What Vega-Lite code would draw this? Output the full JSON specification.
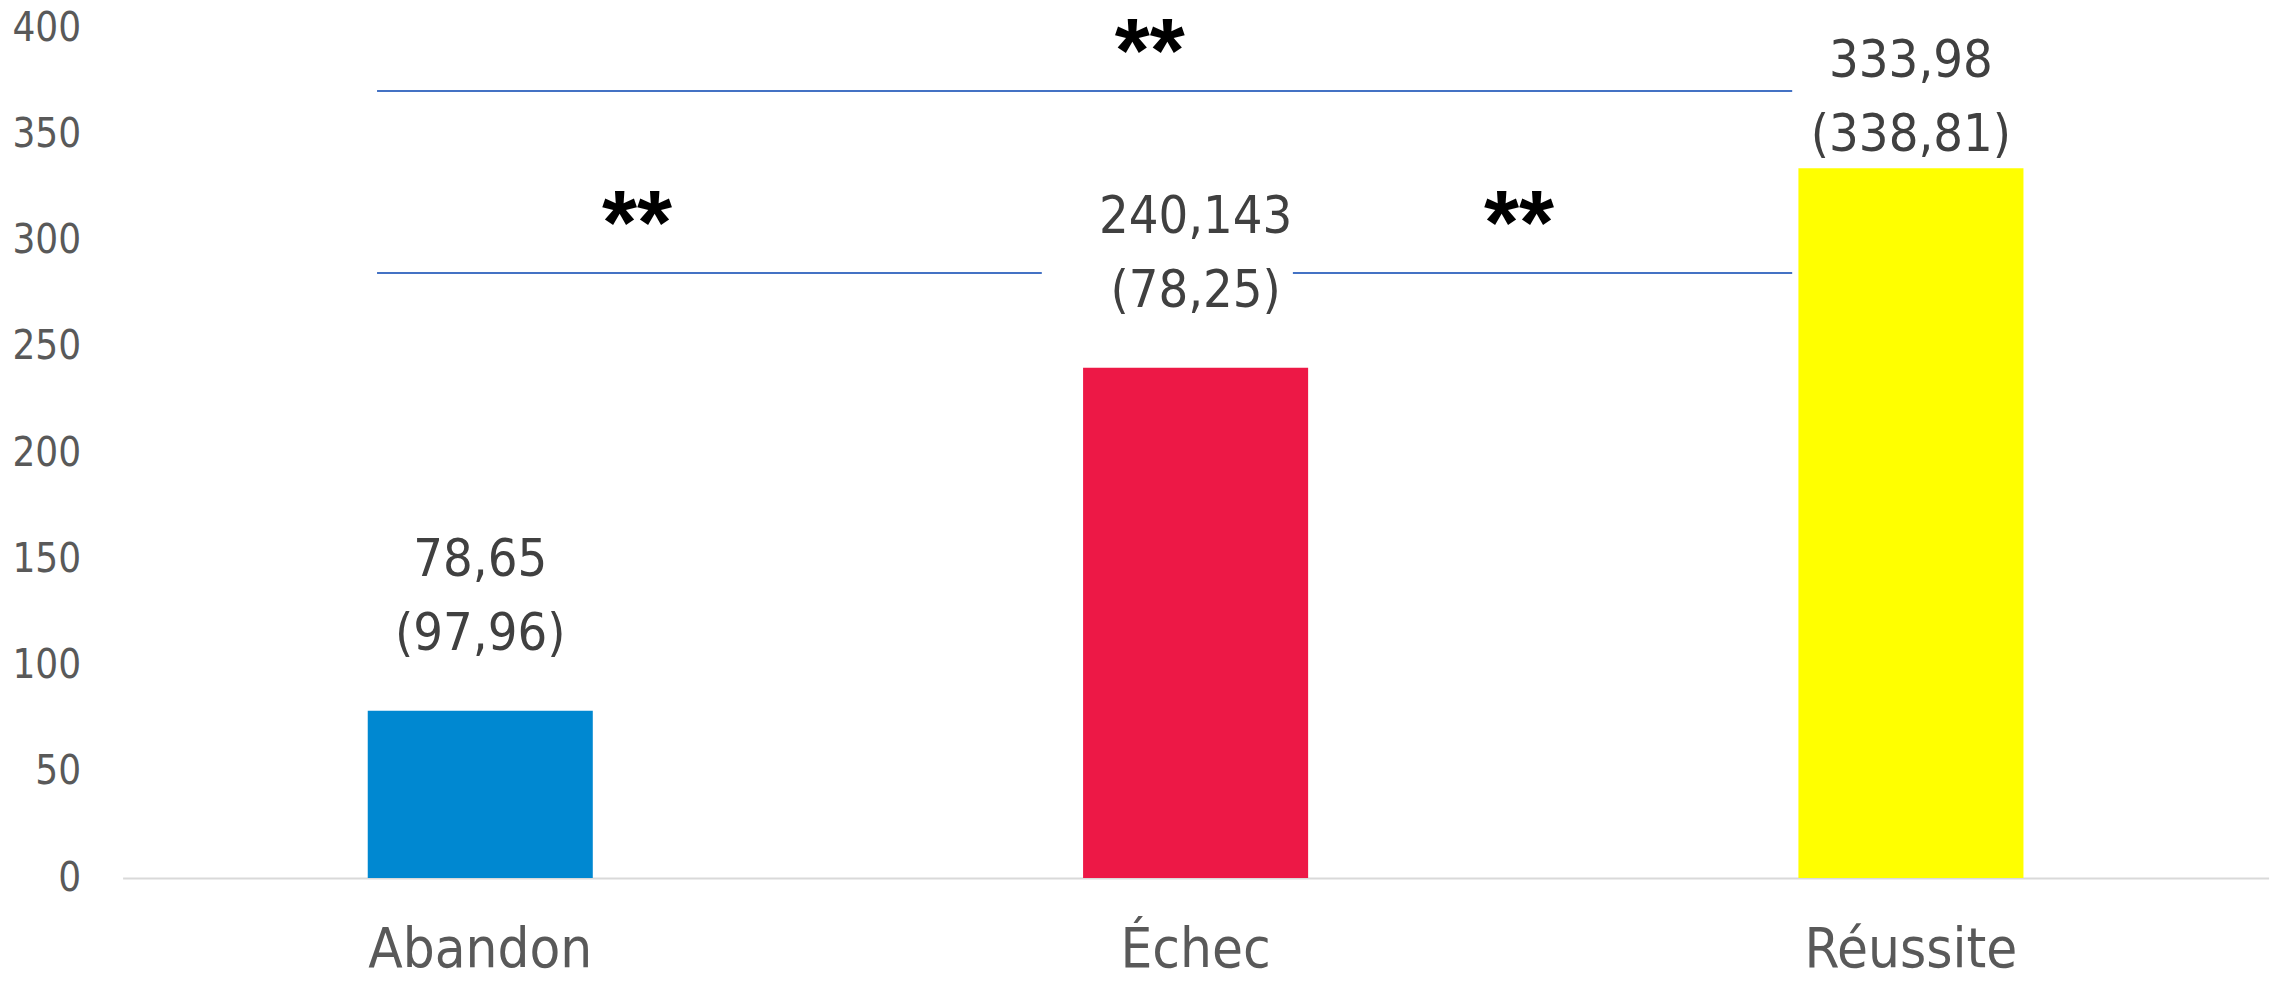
{
  "$schema": "https://vega.github.io/schema/vega-lite/v6.json",
  "width": 2146,
  "height": 850,
  "autosize": {"type": "none"},
  "padding": {"left": 122.6, "top": 28, "right": 6.4, "bottom": 105},
  "background": "white",
  "config": {"view": {"stroke": null}, "font": "DejaVu Sans Condensed, DejaVu Sans"},
  "datasets": {
    "bars": [
      {"cat": "Abandon", "value": 78.65, "label1": "78,65", "label2": "(97,96)"},
      {"cat": "Échec", "value": 240.143, "label1": "240,143", "label2": "(78,25)"},
      {"cat": "Réussite", "value": 333.98, "label1": "333,98", "label2": "(338,81)"}
    ],
    "lines": [
      {"x1": 0.3557, "x2": 2.334, "y": 370.4},
      {"x1": 0.3557, "x2": 1.285, "y": 284.7},
      {"x1": 1.636, "x2": 2.334, "y": 284.7}
    ],
    "stars": [
      {"x": 1.436, "y": 374.6, "t": "**"},
      {"x": 0.719, "y": 293.6, "t": "**"},
      {"x": 1.952, "y": 293.6, "t": "**"}
    ]
  },
  "layer": [
    {
      "data": {"name": "bars"},
      "encoding": {
        "x": {
          "field": "cat", "type": "nominal", "sort": null,
          "scale": {"paddingInner": 0.6854, "paddingOuter": 0.3427},
          "axis": {
            "title": null, "domain": true, "domainColor": "#d9d9d9", "domainWidth": 2,
            "ticks": false, "tickSize": 0, "labelPadding": 88, "labelBaseline": "alphabetic",
            "labelFontSize": 56, "labelColor": "#595959", "labelAngle": 0, "labelLimit": 0,
            "labelFont": "DejaVu Sans Condensed, DejaVu Sans"
          }
        },
        "y": {
          "field": "value", "type": "quantitative",
          "scale": {"domain": [0, 400], "nice": false, "zero": true},
          "axis": {
            "title": null, "domain": false, "ticks": false, "tickSize": 0, "grid": false,
            "values": [0, 50, 100, 150, 200, 250, 300, 350, 400],
            "labelPadding": 42, "labelFontSize": 40, "labelColor": "#595959",
            "labelFont": "DejaVu Sans Condensed, DejaVu Sans"
          }
        }
      },
      "layer": [
        {
          "mark": {"type": "bar"},
          "encoding": {
            "color": {
              "field": "cat", "type": "nominal",
              "scale": {"domain": ["Abandon", "Échec", "Réussite"], "range": ["#0088D1", "#ED1846", "#FFFF00"]},
              "legend": null
            }
          }
        },
        {
          "transform": [{"filter": "datum.cat !== 'Réussite'"}],
          "mark": {"type": "text", "fontSize": 52, "color": "#404040", "baseline": "alphabetic", "align": "center", "dy": -61},
          "encoding": {"text": {"field": "label2"}}
        },
        {
          "transform": [{"filter": "datum.cat !== 'Réussite'"}],
          "mark": {"type": "text", "fontSize": 52, "color": "#404040", "baseline": "alphabetic", "align": "center", "dy": -135},
          "encoding": {"text": {"field": "label1"}}
        },
        {
          "transform": [{"filter": "datum.cat === 'Réussite'"}],
          "mark": {"type": "text", "fontSize": 52, "color": "#404040", "baseline": "alphabetic", "align": "center", "dy": -17},
          "encoding": {"text": {"field": "label2"}}
        },
        {
          "transform": [{"filter": "datum.cat === 'Réussite'"}],
          "mark": {"type": "text", "fontSize": 52, "color": "#404040", "baseline": "alphabetic", "align": "center", "dy": -91},
          "encoding": {"text": {"field": "label1"}}
        }
      ]
    },
    {
      "data": {"name": "lines"},
      "mark": {"type": "rule", "color": "#4472C4", "strokeWidth": 2},
      "encoding": {
        "x": {"field": "x1", "type": "quantitative", "scale": {"domain": [0, 3], "nice": false, "zero": false}, "axis": null},
        "x2": {"field": "x2"},
        "y": {"field": "y", "type": "quantitative", "scale": {"domain": [0, 400], "nice": false}}
      }
    },
    {
      "data": {"name": "stars"},
      "mark": {"type": "text", "font": "Liberation Sans", "fontWeight": "bold", "fontSize": 90, "color": "#000000", "align": "center", "baseline": "alphabetic"},
      "encoding": {
        "x": {"field": "x", "type": "quantitative", "scale": {"domain": [0, 3], "nice": false, "zero": false}, "axis": null},
        "y": {"field": "y", "type": "quantitative", "scale": {"domain": [0, 400], "nice": false}},
        "text": {"field": "t"}
      }
    }
  ],
  "resolve": {"scale": {"x": "independent"}}
}
